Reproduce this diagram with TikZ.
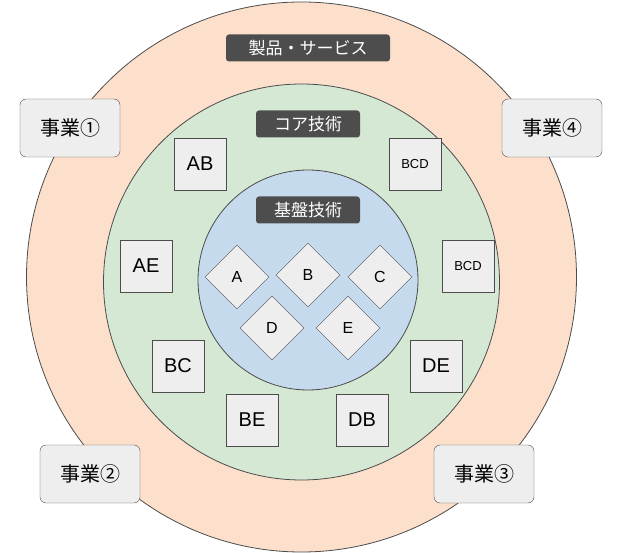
\documentclass[tikz,border=0pt]{standalone}
\usepackage{fontspec}
\setmainfont{Liberation Sans}
\newfontfamily\jp{Noto Sans CJK JP}
\usetikzlibrary{shapes.geometric}
\definecolor{peach}{HTML}{FCE0CB}
\definecolor{leaf}{HTML}{D5E8D4}
\definecolor{sky}{HTML}{C6DAEE}
\definecolor{tile}{HTML}{EEEEEE}
\definecolor{tag}{HTML}{4D4D4D}
\tikzset{
  ring/.style={draw=black!70, line width=0.8pt},
  tagbox/.style={fill=tag, text=white, rounded corners=3pt, minimum width=#1, minimum height=27pt, font=\jp\fontsize{17}{17}\selectfont},
  bizbox/.style={draw=black!70, fill=tile, rounded corners=6pt, minimum width=100pt, minimum height=58pt, font=\jp\fontsize{20}{20}\selectfont},
  techbox/.style={draw=black!70, fill=tile, minimum width=52pt, minimum height=52pt, font=\fontsize{20}{20}\selectfont},
  smallbox/.style={techbox, font=\fontsize{13}{13}\selectfont},
  elem/.style={draw=black!70, fill=tile, diamond, minimum width=64pt, minimum height=64pt, inner sep=0pt, font=\fontsize{16}{16}\selectfont}
}
\begin{document}
\begin{tikzpicture}[x=1pt, y=-1pt]
    \useasboundingbox (0,0) rectangle (619,553);
    % rings
    \draw[ring, fill=peach] (301.5,277) circle (275);
    \draw[ring, fill=leaf] (301.5,282) circle (198);
    \draw[ring, fill=sky] (308,280) circle (110);

    \node[tagbox=164pt] (products) at (308,48) {製品・サービス};
    \node[tagbox=104pt] (core) at (308,124) {コア技術};
    \node[tagbox=104pt] (base) at (308,210) {基盤技術};

    % businesses
    \node[bizbox] (biz1) at (70,128) {事業①};
    \node[bizbox] (biz4) at (552,128) {事業④};
    \node[bizbox] (biz2) at (90,474) {事業②};
    \node[bizbox] (biz3) at (484,474) {事業③};

    % core technologies
    \node[techbox] (ab) at (200,164) {AB};
    \node[smallbox] (bcd1) at (415,164) {BCD};
    \node[techbox] (ae) at (146,266) {AE};
    \node[smallbox] (bcd2) at (468,266) {BCD};
    \node[techbox] (bc) at (178,366) {BC};
    \node[techbox] (de) at (436,366) {DE};
    \node[techbox] (be) at (252,420) {BE};
    \node[techbox] (db) at (362,420) {DB};

    % base technologies
    \node[elem] (a) at (237,277) {A};
    \node[elem] (b) at (308,275) {B};
    \node[elem] (c) at (380,277) {C};
    \node[elem] (d) at (272,328) {D};
    \node[elem] (e) at (348,328) {E};
\end{tikzpicture}
\end{document}
